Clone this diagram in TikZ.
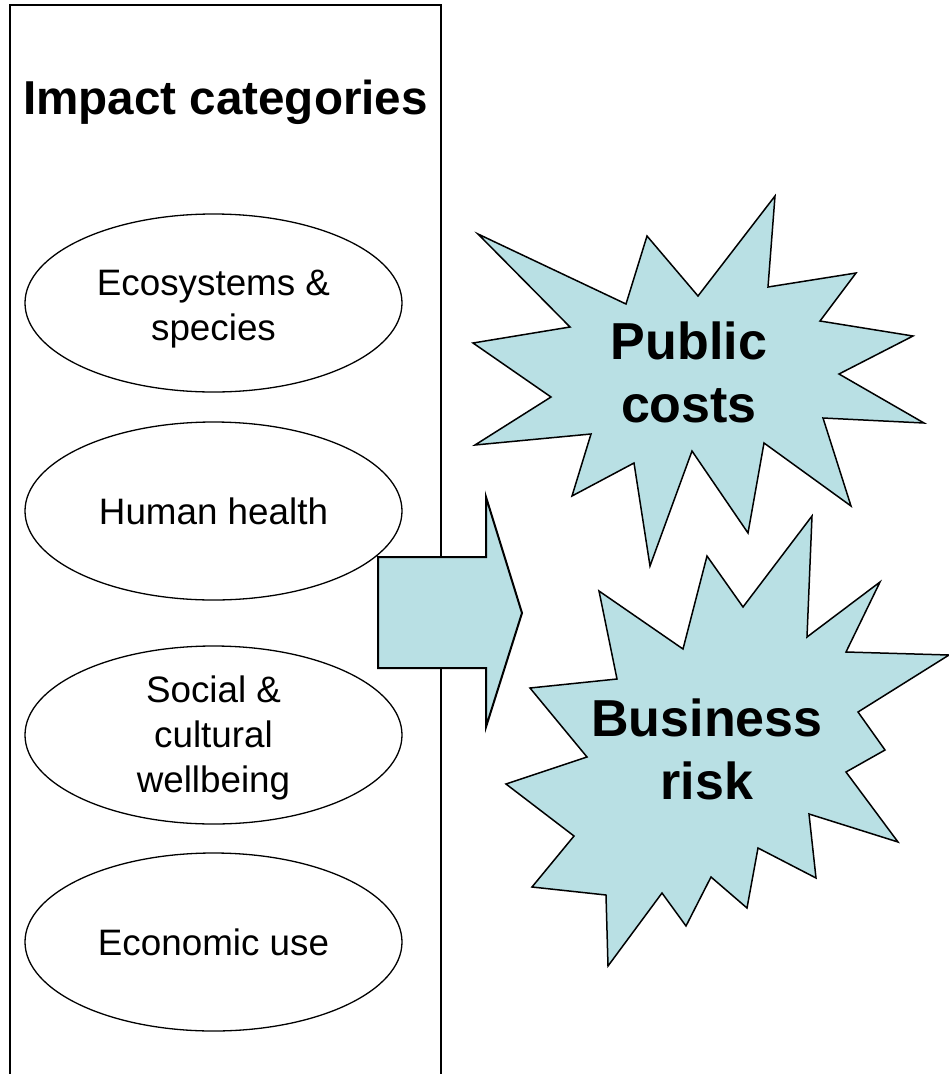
\documentclass[tikz,border=0pt]{standalone}
\usepackage{fontspec}
\setmainfont{Liberation Sans}
\usetikzlibrary{shapes.geometric}
\definecolor{burstfill}{RGB}{185,224,228}
\tikzset{
  catell/.style={draw,ellipse,line width=1.3pt,minimum width=377pt,minimum height=178pt,inner sep=0pt},
  cattext/.style={align=center,font=\fontsize{36.8}{45}\selectfont},
  burst/.style={draw,fill=burstfill,line width=1.5pt,line join=miter},
  bursttext/.style={align=center,font=\fontsize{52}{63}\selectfont\bfseries},
}

\begin{document}
\begin{tikzpicture}[x=1pt,y=-1pt]
 \useasboundingbox (0,0) rectangle (949,1074);
 \draw[line width=2pt] (10,1074)--(10,5)--(441,5)--(441,1074);
 \node[font=\fontsize{47.6}{56}\selectfont\bfseries] (title) at (225.5,102) {Impact categories};

 \node[catell] (eco) at (213.5,303) {};
 \node[cattext] (ecotxt) at ([yshift=-6pt]eco.center) {Ecosystems \&\\species};
 \node[catell] (health) at (213.5,511) {};
 \node[cattext] (healthtxt) at (health.center) {Human health};
 \node[catell] (social) at (213.5,735) {};
 \node[cattext] (socialtxt) at ([yshift=-3pt]social.center) {Social \&\\cultural\\wellbeing};
 \node[catell] (econ) at (213.5,942) {};
 \node[cattext] (econtxt) at (econ.center) {Economic use};

 \draw[burst,line width=2pt] (378,557)--(486,557)--(486,497)--(522,613)--(486,727)
   --(486,668)--(378,668)--cycle;

 \draw[burst] (775,196)--(768,287)--(856,273)--(820,321)--(913,336)--(839,374)
   --(924,423)--(823,418)--(851,506)--(764,443)--(748,533)--(692,451)
   --(650,566)--(634,463)--(572,496)--(591,434)--(475,445)--(551,397)
   --(473,343)--(570,327)--(478,234)--(626,304)--(647,236)--(698,296)--cycle;
 \node[bursttext] (public) at (689,372) {Public\\costs};

 \draw[burst] (812,516)--(807,637)--(880,582)--(846,652)--(949,655)--(858,712)
   --(885,750)--(846,772)--(898,842)--(809,814)--(816,878)--(758,848)
   --(747,908)--(711,877)--(686,926)--(662,893)--(608,966)--(606,895)
   --(532,887)--(574,836)--(506,784)--(587,757)--(530,688)--(617,679)
   --(599,591)--(683,649)--(707,556)--(743,607)--cycle;
 \node[bursttext] (business) at (707,749) {Business\\risk};
\end{tikzpicture}
\end{document}
